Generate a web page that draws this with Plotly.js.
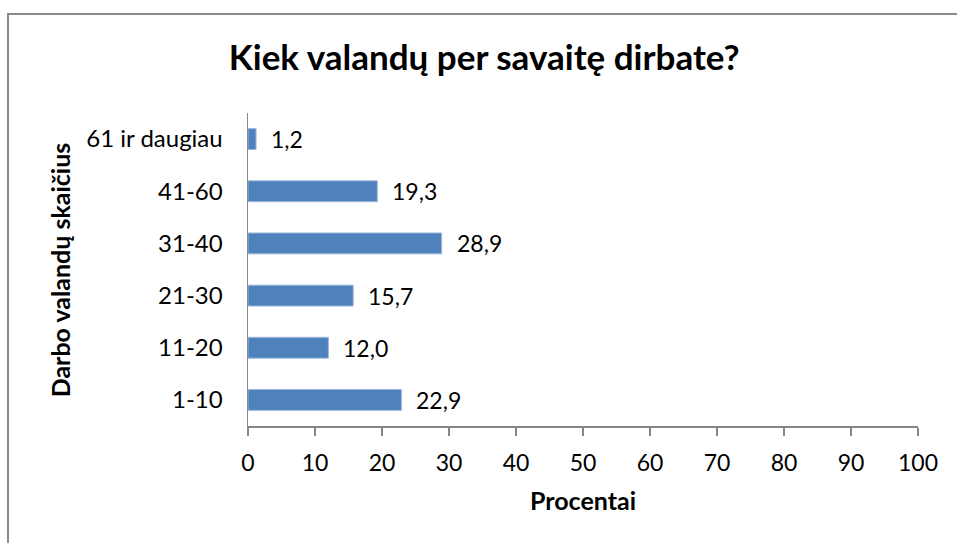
<!DOCTYPE html>
<html>
<head>
<meta charset="utf-8">
<script src="https://cdn.plot.ly/plotly-3.0.1.min.js"></script>
<style>
html,body{margin:0;padding:0;background:#fff;overflow:hidden;}
#wrap{position:relative;width:957px;height:543px;}
#frame{position:absolute;left:7px;top:13px;width:970px;height:560px;border-top:2px solid #8a8a8a;border-left:2px solid #8a8a8a;pointer-events:none;}
#chart{position:absolute;left:0;top:0;width:957px;height:543px;}
</style>
</head>
<body>
<div id="wrap"><div id="chart"></div><div id="frame"></div></div>
<script>
const categories = ["1-10", "11-20", "21-30", "31-40", "41-60", "61 ir daugiau"];
const values = [22.9, 12.0, 15.7, 28.9, 19.3, 1.2];
const xTicks = [0, 10, 20, 30, 40, 50, 60, 70, 80, 90, 100];

const chartTitle = "Kiek valandų per savaitę dirbate?";
const yTitle = "Darbo valandų skaičius";
const xTitle = "Procentai";

const FONT = "Lato, 'Open Sans', sans-serif";

const trace = {
  type: "bar",
  orientation: "h",
  x: values,
  y: categories,
  width: 0.4,
  marker: {color: "#4F81BD", line: {color: "#9cb8dc", width: 1}},
  hoverinfo: "none"
};

const labelAnnotations = values.map((v, i) => ({
  x: v, y: categories[i], xref: "x", yref: "y",
  text: v.toFixed(1).replace(".", ","),
  showarrow: false, xanchor: "left", yanchor: "middle",
  xshift: 13,
  font: {family: FONT, size: 23, color: "#000"}
}));

const layout = {
  width: 957, height: 543,
  margin: {l: 247.5, r: 38.5, t: 112.5, b: 117},
  paper_bgcolor: "#fff", plot_bgcolor: "#fff",
  showlegend: false,
  separators: ", ",
  title: {
    text: "<b>" + chartTitle + "</b>",
    font: {family: FONT, size: 35, color: "#000"},
    x: 0.506, xref: "container", xanchor: "center",
    y: 0.893, yref: "container", yanchor: "middle"
  },
  xaxis: {
    range: [0, 100], tickvals: xTicks, ticktext: xTicks.map(String),
    ticks: "outside", ticklen: 8, tickwidth: 1.5, tickcolor: "#868686",
    showline: true, linecolor: "#868686", linewidth: 1.5,
    showgrid: false, zeroline: false,
    ticklabelstandoff: 8,
    tickfont: {family: FONT, size: 23, color: "#000"},
    fixedrange: true
  },
  yaxis: {
    type: "category", categoryorder: "array", categoryarray: categories,
    ticks: "", showline: true, linecolor: "#868686", linewidth: 1.5,
    showgrid: false, zeroline: false,
    ticklabelstandoff: 19,
    tickfont: {family: FONT, size: 24, color: "#000"},
    fixedrange: true
  },
  annotations: labelAnnotations.concat([
    {text: "<b>" + yTitle + "</b>", textangle: -90, showarrow: false,
     xref: "paper", yref: "paper", x: (59 - 247.5) / 671, y: 0.5,
     xanchor: "center", yanchor: "middle",
     font: {family: FONT, size: 25, color: "#000"}},
    {text: "<b>" + xTitle + "</b>", showarrow: false,
     xref: "paper", yref: "paper", x: 0.5, y: -(500 - 426) / 313.5,
     xanchor: "center", yanchor: "middle",
     font: {family: FONT, size: 25, color: "#000"}}
  ])
};

Plotly.newPlot("chart", [trace], layout, {staticPlot: true, displayModeBar: false});
</script>
</body>
</html>
